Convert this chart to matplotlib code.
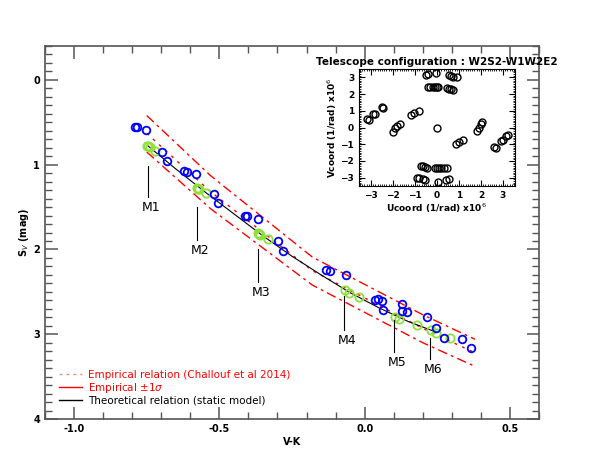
import matplotlib
matplotlib.use('Agg')
import matplotlib.pyplot as plt
from matplotlib.lines import Line2D
from matplotlib.ticker import MultipleLocator

# Data
# interferometric measurements (blue) and model points (green)
blue_vk = [-0.790, -0.784, -0.753, -0.697, -0.681, -0.620, -0.613, -0.579, -0.519, -0.503,
           -0.413, -0.406, -0.367, -0.298, -0.280, -0.134, -0.118, -0.063, 0.035, 0.046,
           0.061, 0.063, 0.127, 0.129, 0.147, 0.215, 0.244, 0.274, 0.335, 0.367]
blue_sv = [0.558, 0.558, 0.596, 0.852, 0.958, 1.079, 1.082, 1.111, 1.346, 1.447,
           1.608, 1.608, 1.640, 1.902, 2.016, 2.244, 2.255, 2.299, 2.596, 2.585,
           2.605, 2.714, 2.647, 2.722, 2.738, 2.793, 2.929, 3.044, 3.059, 3.161]

green_vk = [-0.748, -0.744, -0.740, -0.723, -0.578, -0.574, -0.570, -0.546, -0.367, -0.363,
            -0.359, -0.332, -0.069, -0.054, -0.021, 0.103, 0.118, 0.180, 0.229, 0.246, 0.294]
green_sv = [0.775, 0.781, 0.790, 0.844, 1.275, 1.282, 1.290, 1.338, 1.810, 1.820,
            1.830, 1.875, 2.479, 2.511, 2.565, 2.800, 2.824, 2.894, 2.949, 2.988, 3.044]

# relations
emp_vk = [-0.75, -0.53, -0.18, 0.20, 0.38]
emp_sv = [0.63, 1.32, 2.25, 2.93, 3.22]
emp_up = [0.42, 1.13, 2.09, 2.77, 3.06]
emp_lo = [0.85, 1.52, 2.42, 3.10, 3.38]

theo_vk = [-0.745, -0.65, -0.55, -0.45, -0.35, -0.25, -0.15, -0.05, 0.05, 0.15, 0.25]
theo_sv = [0.78, 1.05, 1.32, 1.58, 1.84, 2.08, 2.30, 2.51, 2.69, 2.85, 2.98]

# model labels: x, top and bottom of the pointer line
model_names = ['M1', 'M2', 'M3', 'M4', 'M5', 'M6']
model_x = [-0.746, -0.576, -0.366, -0.071, 0.101, 0.226]
model_top = [1.01, 1.50, 2.00, 2.55, 2.83, 3.05]
model_bot = [1.38, 1.89, 2.38, 2.95, 3.21, 3.29]

# uv coverage (inset)
ucoord = [-0.5, -0.4, -0.05, 0.55, 0.65, 0.75, 0.9,
          -0.4, -0.3, -0.2, -0.1, 0.0, 0.05, 0.45, 0.55, 0.65, 0.75,
          -3.2, -3.1, -2.9, -2.8, -2.5, -2.45,
          -2.0, -1.9, -1.8, -1.7, -1.2, -1.05, -0.8, 0.0,
          0.85, 1.0, 1.2, 1.8, 1.9, 2.0, 2.05,
          2.6, 2.7, 2.9, 3.0, 3.15, 3.25,
          -0.9, -0.8, -0.65, -0.55, 0.05, 0.4, 0.55,
          -0.75, -0.65, -0.55, -0.45, -0.1, 0.0, 0.1, 0.2, 0.3, 0.45]
vcoord = [3.15, 3.2, 3.25, 3.15, 3.1, 3.05, 3.0,
          2.4, 2.4, 2.4, 2.4, 2.4, 2.4, 2.35, 2.3, 2.3, 2.25,
          0.5, 0.45, 0.8, 0.8, 1.2, 1.15,
          -0.25, -0.05, 0.1, 0.2, 0.75, 0.85, 1.0, 0.0,
          -1.0, -0.85, -0.75, -0.2, 0.0, 0.2, 0.3,
          -1.15, -1.2, -0.8, -0.75, -0.5, -0.45,
          -3.0, -3.05, -3.1, -3.15, -3.25, -3.15, -3.1,
          -2.3, -2.3, -2.35, -2.4, -2.4, -2.4, -2.4, -2.4, -2.4, -2.4]

W, H = 599, 466
fig = plt.figure(figsize=(W / 100, H / 100), dpi=100)
ax = fig.add_axes([45 / W, 1 - 419 / H, 494 / W, 373 / H])

axis_col = '#555555'
for sp in ax.spines.values():
    sp.set_color(axis_col)
    sp.set_linewidth(1.2)

# relations
ax.plot(emp_vk, emp_up, color='red', lw=1.0, ls=(0, (7, 3, 2, 3)))
ax.plot(emp_vk, emp_lo, color='red', lw=1.0, ls=(0, (7, 3, 2, 3)))
ax.plot(emp_vk, emp_sv, color='red', lw=1.0, ls=(0, (2, 4)))
ax.plot(theo_vk, theo_sv, color='black', lw=0.8)

# points
ax.plot(green_vk, green_sv, 'o', mfc='none', mec='#8ee03a', ms=6, mew=1.3)
ax.plot(blue_vk, blue_sv, 'o', mfc='none', mec='#0000ff', ms=5.5, mew=1.3)

# model labels
for name, mx, t, b in zip(model_names, model_x, model_top, model_bot):
    ax.plot([mx, mx], [t, b], color='black', lw=0.8)
    ax.text(mx + 0.01, b + 0.05, name, ha='center', va='top', fontsize=9)

ax.set_xlim(-1.1, 0.6)
ax.set_ylim(4, -0.4)
ax.xaxis.set_major_locator(MultipleLocator(0.5))
ax.xaxis.set_minor_locator(MultipleLocator(0.1))
ax.yaxis.set_major_locator(MultipleLocator(1))
ax.yaxis.set_minor_locator(MultipleLocator(0.1))
ax.xaxis.set_major_formatter(plt.FuncFormatter(lambda v, p: f'{v:.1f}'))
ax.tick_params(which='both', direction='in', top=True, right=True, color=axis_col,
               labelsize=7)
ax.tick_params(which='major', length=9, width=1.1)
ax.tick_params(which='minor', length=5, width=1.0)
for lab in ax.get_xticklabels() + ax.get_yticklabels():
    lab.set_fontweight('bold')

ax.set_ylabel('S$_V$ (mag)', fontsize=7, fontweight='bold', labelpad=2)
ax.set_xlabel('V-K', fontsize=7, fontweight='bold', labelpad=2)

# legend
handles = [Line2D([], [], color='#ff8080', lw=1, ls=(0, (2, 3))),
           Line2D([], [], color='red', lw=1),
           Line2D([], [], color='black', lw=1)]
labels = ['Empirical relation (Challouf et al 2014)', 'Empirical $\\pm$1$\\sigma$',
          'Theoretical relation (static model)']
ax.legend(handles, labels, loc='lower left', bbox_to_anchor=(0.01, 0.01), frameon=False,
          fontsize=7.5, handlelength=2.2, labelspacing=0.1, handletextpad=0.6,
          labelcolor=['red', 'red', 'black'])

# inset: uv coverage
ins = fig.add_axes([359 / W, 1 - 186 / H, 156 / W, 117 / H])
ins.plot(ucoord, vcoord, 'o', mfc='none', mec='black', ms=5, mew=1.0)
ins.set_xlim(-3.55, 3.55)
ins.set_ylim(-3.5, 3.5)
ins.xaxis.set_major_locator(MultipleLocator(1))
ins.yaxis.set_major_locator(MultipleLocator(1))
ins.xaxis.set_minor_locator(MultipleLocator(0.1))
ins.yaxis.set_minor_locator(MultipleLocator(0.1))
ins.tick_params(which='both', direction='in', top=True, right=True, labelsize=6.5)
ins.tick_params(which='major', length=4)
ins.tick_params(which='minor', length=1.5)
for lab in ins.get_xticklabels() + ins.get_yticklabels():
    lab.set_fontweight('bold')
ins.set_xlabel('Ucoord (1/rad) x10$^6$', fontsize=6.5, fontweight='bold', labelpad=1)
ins.set_ylabel('Vcoord (1/rad) x10$^6$', fontsize=6.5, fontweight='bold', labelpad=1)
ins.set_title('Telescope configuration : W2S2-W1W2E2', fontsize=7.5, fontweight='bold', pad=3)

fig.savefig('out.png', dpi=100, facecolor='white')
